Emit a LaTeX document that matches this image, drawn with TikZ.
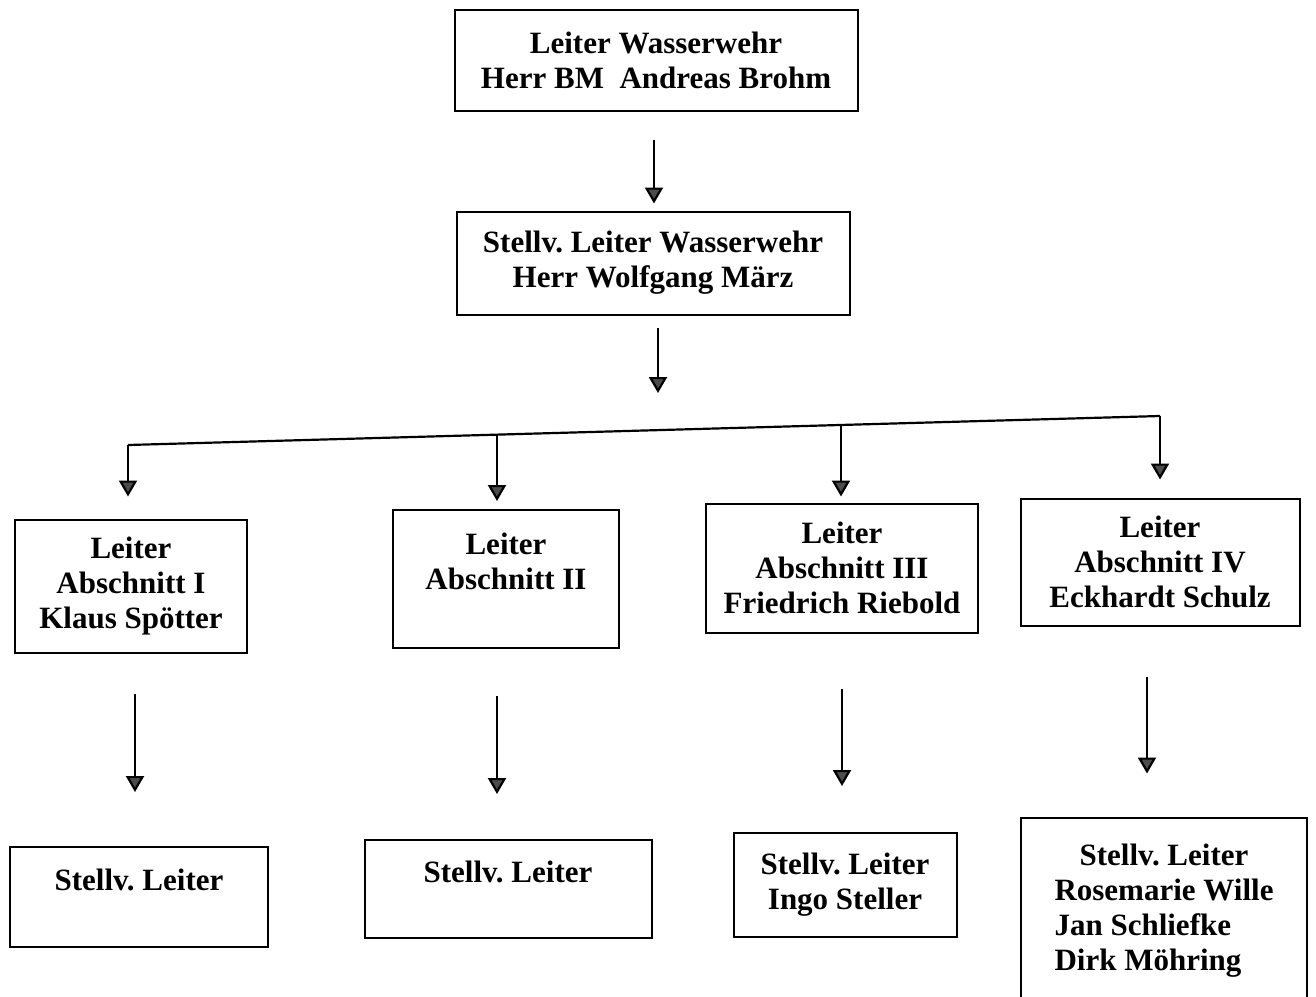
\documentclass[tikz,border=0pt]{standalone}
\usepackage{fontspec}
\setmainfont{Liberation Serif}
\usetikzlibrary{arrows.meta}
\newcommand{\wwfont}{\fontsize{15.5}{17.5}\selectfont\bfseries}

\begin{document}
\frenchspacing
\begin{tikzpicture}[x=0.5pt,y=-0.5pt,
    box/.style={draw, line width=1pt, align=center, inner sep=0pt, font=\wwfont},
    arr/.style={line width=1.1pt, -{Triangle[width=9pt,length=8pt,fill=black!70]}}]
	\useasboundingbox (0,0) rectangle (1316,996);

	% Leitung
	\node[box, minimum width=201.5pt, minimum height=50.5pt] (leiter) at (656,60) {Leiter Wasserwehr\\Herr BM\ \ Andreas Brohm};
	\node[box, minimum width=196.5pt, minimum height=51.5pt] (stellv) at (653,263) {Stellv. Leiter Wasserwehr\\Herr Wolfgang März};

	% Abschnitte
	\node[box, minimum width=116pt, minimum height=66.5pt] (abs1) at (131,586) {Leiter\\Abschnitt I\\Klaus Spötter};
	\node[box, minimum width=113pt, minimum height=69pt] (abs2) at (506,579) {Leiter\\Abschnitt II\\\mbox{}};
	\node[box, minimum width=136pt, minimum height=64.5pt] (abs3) at (842,568) {Leiter\\Abschnitt III\\Friedrich Riebold};
	\node[box, minimum width=139.5pt, minimum height=63.5pt] (abs4) at (1160,562) {Leiter\\Abschnitt IV\\Eckhardt Schulz};

	% Stellvertreter
	\node[box, minimum width=129pt, minimum height=50pt] (sv1) at (139,897) {Stellv. Leiter\\\mbox{}};
	\node[box, minimum width=143.5pt, minimum height=49pt] (sv2) at (508,889) {Stellv. Leiter\\\mbox{}};
	\node[box, minimum width=111.5pt, minimum height=52pt] (sv3) at (845,885) {Stellv. Leiter\\Ingo Steller};
	\node[box, minimum width=143pt, minimum height=93.5pt] (sv4) at (1164,911) {\begin{tabular}{@{}l@{}}\multicolumn{1}{@{}c@{}}{Stellv. Leiter}\\Rosemarie Wille\\Jan Schliefke\\Dirk Möhring\end{tabular}};

	% Verteiler
	\coordinate (b1) at (128,445);
	\coordinate (b2) at (497,435);
	\coordinate (b3) at (841,425);
	\coordinate (b4) at (1160,416);
	\coordinate (hub) at (658,430);
	\draw[line width=1.1pt] (b1) -- (b4);

	\draw[arr, shorten <=14pt, shorten >=3.5pt] ([xshift=-1pt]leiter.south) -- ([xshift=-1pt]leiter.south |- stellv.north);
	\draw[arr, shorten <=6pt, shorten >=18.5pt] (stellv.south -| hub) -- (hub);

	\draw[arr, shorten >=11pt] (b1) -- (b1 |- abs1.north);
	\draw[arr, shorten >=4pt] (b2) -- (b2 |- abs2.north);
	\draw[arr, shorten >=3pt] (b3) -- (b3 |- abs3.north);
	\draw[arr, shorten >=9pt] (b4) -- (b4 |- abs4.north);

	\draw[arr, shorten <=20pt, shorten >=27pt] ([xshift=2pt]abs1.south) -- ([xshift=2pt]abs1.south |- sv1.north);
	\draw[arr, shorten <=23.5pt, shorten >=22.5pt] ([xshift=-4.5pt]abs2.south) -- ([xshift=-4.5pt]abs2.south |- sv2.north);
	\draw[arr, shorten <=27.5pt, shorten >=23pt] (abs3.south) -- (abs3.south |- sv3.north);
	\draw[arr, shorten <=25pt, shorten >=21.5pt] ([xshift=-6.5pt]abs4.south) -- ([xshift=-6.5pt]abs4.south |- sv4.north);

\end{tikzpicture}
\end{document}
